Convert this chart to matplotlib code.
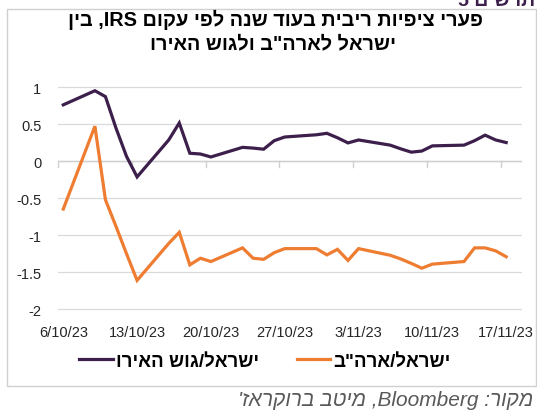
import numpy as np
import pandas as pd
import matplotlib
matplotlib.use('Agg')
import matplotlib.pyplot as plt
import matplotlib.dates as mdates
from matplotlib.patches import Rectangle

# trading days shown in the chart
dates = pd.bdate_range('2023-10-06', '2023-11-17')

israel_eurozone = [0.765, 0.956, 0.876, 0.45, 0.067, -0.21,
                   0.29, 0.52, 0.11, 0.10, 0.06,
                   0.19, 0.18, 0.165, 0.28, 0.33,
                   0.36, 0.38, 0.32, 0.25, 0.29,
                   0.22, 0.17, 0.125, 0.14, 0.21,
                   0.22, 0.28, 0.355, 0.29, 0.255]

israel_us = [-0.645, 0.476, -0.52, -0.88, -1.25, -1.61,
             -1.11, -0.96, -1.40, -1.31, -1.355,
             -1.17, -1.31, -1.325, -1.235, -1.18,
             -1.18, -1.265, -1.19, -1.34, -1.18,
             -1.27, -1.32, -1.38, -1.445, -1.39,
             -1.355, -1.17, -1.17, -1.21, -1.29]

tick_dates = pd.date_range('2023-10-06', '2023-11-17', freq='7D')
tick_labels = ['6/10/23', '13/10/23', '20/10/23', '27/10/23', '3/11/23', '10/11/23', '17/11/23']
y_ticks = [-2, -1.5, -1, -0.5, 0, 0.5, 1]
y_labels = ['-2', '-1.5', '-1', '-0.5', '0', '0.5', '1']

title_lines = ['פערי ציפיות ריבית בעוד שנה לפי עקום IRS, בין', 'ישראל לארה"ב ולגוש האירו']
legend_labels = ['ישראל/גוש האירו', 'ישראל/ארה"ב']
source = "מקור: Bloomberg, מיטב ברוקראז'"

PURPLE = '#3d1f4c'
ORANGE = '#ee7d31'
HEB = ['Liberation Sans', 'DejaVu Sans']


def visual(s):
  # crude bidi: reverse, then put latin runs back in order
  out = s[::-1]
  import re
  return re.sub(r'[A-Za-z0-9]+', lambda m: m.group(0)[::-1], out)


def main():
  fig = plt.figure(figsize=(5.37, 4.14), dpi=100)
  fig.patch.set_facecolor('white')

  # outer frame of the chart
  fig.add_artist(Rectangle((7 / 537, 1 - 387 / 414), 529 / 537, 377 / 414,
                           transform=fig.transFigure, fill=False,
                           edgecolor='#d0d0d0', linewidth=1))

  ax = fig.add_axes([58 / 537, 1 - 311.7 / 414, 464 / 537, 224.7 / 414])
  half = pd.Timedelta(hours=12)
  x = mdates.date2num(dates + half)
  ax.plot(x, israel_eurozone, color=PURPLE, lw=2.3, label=visual(legend_labels[0]),
          solid_joinstyle='miter')
  ax.plot(x, israel_us, color=ORANGE, lw=2.3, label=visual(legend_labels[1]),
          solid_joinstyle='miter')

  x0 = mdates.date2num(pd.Timestamp('2023-10-06'))
  ax.set_xlim(x0, x0 + 44)
  ax.set_ylim(-2.02, 1.02)
  ax.set_yticks(y_ticks)
  ax.set_yticklabels(y_labels)
  ax.set_xticks(mdates.date2num(tick_dates + half))
  ax.set_xticklabels(tick_labels)
  ax.tick_params(length=0, labelsize=10.5, labelcolor='#262626')
  ax.tick_params(axis='x', pad=10)
  ax.tick_params(axis='y', pad=12)
  for lab in ax.get_xticklabels() + ax.get_yticklabels():
    lab.set_family('Liberation Sans')
  for s in ax.spines.values():
    s.set_visible(False)
  for v in y_ticks:
    ax.axhline(v, color='#dadada', lw=0.9, zorder=0)
  ax.axhline(0, color='#cfcfcf', lw=1.0, zorder=0)
  for t in mdates.date2num(tick_dates):
    ax.plot([t, t], [0, -0.07], color='#cfcfcf', lw=1.0, zorder=0, clip_on=False)

  fig.text(275 / 537, 1 - 20 / 414, visual(title_lines[0]), ha='center', va='center',
           fontsize=14.3, fontweight='bold', family=HEB)
  fig.text(273 / 537, 1 - 44 / 414, visual(title_lines[1]), ha='center', va='center',
           fontsize=14.3, fontweight='bold', family=HEB)

  leg = fig.legend(loc='center', bbox_to_anchor=(265 / 537, 1 - 362 / 414), ncol=2,
                   frameon=False, handlelength=1.8, handletextpad=0.15,
                   columnspacing=2.0, prop={'family': HEB, 'weight': 'bold', 'size': 13.5})
  for line in leg.get_lines():
    line.set_linewidth(2.3)

  fig.text(533 / 537, 1 - 401 / 414, visual(source), ha='right', va='center',
           fontsize=15, style='italic', color='#595959', family=HEB)

  # cut-off header at the very top
  fig.text(535 / 537, 1 - 1 / 414, visual('תרשים 5'), ha='right', va='center',
           fontsize=14, fontweight='bold', color=PURPLE, family=HEB)

  fig.savefig('out.png', dpi=100)


if __name__ == "__main__":
  main()
